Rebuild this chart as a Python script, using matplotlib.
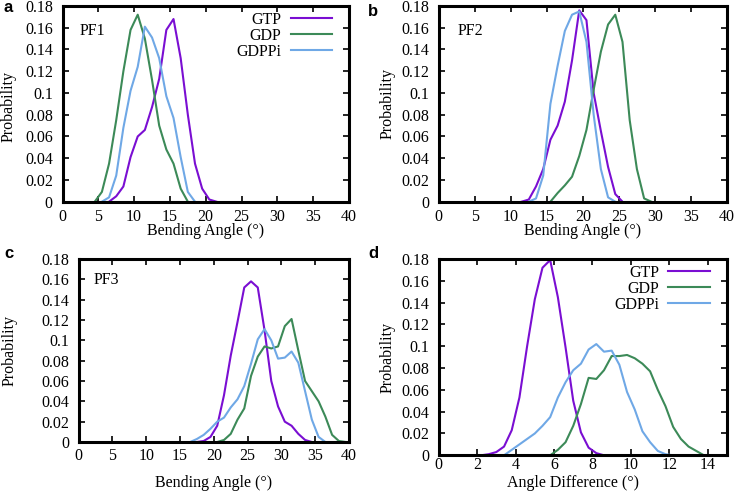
import matplotlib
matplotlib.use('Agg')
import matplotlib.pyplot as plt
from matplotlib.ticker import MultipleLocator, FuncFormatter

plt.rcParams['font.family'] = ['Liberation Serif', 'DejaVu Serif']
plt.rcParams['font.size'] = 11.5

gtp_color = '#7a0ed2'
gdp_color = '#3c8a58'
gdppi_color = '#6fa8e6'

# PF1 bending angle distributions
a_gtp_x = [6.5, 7.5, 8.5, 9.5, 10.5, 11.5, 12.5, 13.5, 14.5, 15.5, 16.5, 17.5, 18.5, 19.5, 20.5, 21.5]
a_gtp_y = [0, 0.005, 0.014, 0.041, 0.06, 0.066, 0.087, 0.113, 0.158, 0.168, 0.132, 0.08, 0.035, 0.012, 0.002, 0]
a_gdp_x = [4.5, 5.5, 6.5, 7.5, 8.5, 9.5, 10.5, 11.5, 12.5, 13.5, 14.5, 15.5, 16.5, 17.5]
a_gdp_y = [0, 0.009, 0.035, 0.075, 0.12, 0.158, 0.172, 0.150, 0.112, 0.07, 0.048, 0.035, 0.012, 0]
a_gdppi_x = [5.5, 6.5, 7.5, 8.5, 9.5, 10.5, 11.5, 12.5, 13.5, 14.5, 15.5, 16.5, 17.5, 18.5]
a_gdppi_y = [0, 0.004, 0.024, 0.068, 0.102, 0.124, 0.161, 0.151, 0.132, 0.097, 0.077, 0.041, 0.009, 0]

# PF2
b_gtp_x = [11.5, 12.5, 13.5, 14.5, 15.5, 16.5, 17.5, 18.5, 19.5, 20.5, 21.5, 22.5, 23.5, 24.5, 25.5]
b_gtp_y = [0, 0.002, 0.014, 0.03, 0.057, 0.07, 0.092, 0.13, 0.176, 0.167, 0.1, 0.065, 0.032, 0.007, 0]
b_gdp_x = [15.5, 16.5, 17.5, 18.5, 19.5, 20.5, 21.5, 22.5, 23.5, 24.5, 25.5, 26.5, 27.5, 28.5, 29.5]
b_gdp_y = [0, 0.008, 0.015, 0.023, 0.042, 0.066, 0.103, 0.138, 0.163, 0.172, 0.147, 0.075, 0.03, 0.003, 0]
b_gdppi_x = [12.5, 13.5, 14.5, 15.5, 16.5, 17.5, 18.5, 19.5, 20.5, 21.5, 22.5, 23.5, 24.5]
b_gdppi_y = [0, 0.003, 0.024, 0.09, 0.125, 0.157, 0.172, 0.175, 0.147, 0.08, 0.03, 0.004, 0]

# PF3
c_gtp_x = [17.5, 18.5, 19.5, 20.5, 21.5, 22.5, 23.5, 24.5, 25.5, 26.5, 27.5, 28.5, 29.5, 30.5,
           31.5, 32.5, 33.5, 34.5]
c_gtp_y = [0, 0.001, 0.005, 0.016, 0.046, 0.085, 0.118, 0.152, 0.158, 0.152, 0.11, 0.06, 0.035, 0.02,
           0.016, 0.008, 0.002, 0]
c_gdp_x = [20.5, 21.5, 22.5, 23.5, 24.5, 25.5, 26.5, 27.5, 28.5, 29.5, 30.5, 31.5, 32.5, 33.5,
           34.5, 35.5, 36.5, 37.5, 38.5, 39.5]
c_gdp_y = [0, 0.002, 0.008, 0.022, 0.033, 0.065, 0.084, 0.094, 0.092, 0.094, 0.114, 0.121, 0.09, 0.06,
           0.05, 0.04, 0.025, 0.007, 0.001, 0]
c_gdppi_x = [16.5, 17.5, 18.5, 19.5, 20.5, 21.5, 22.5, 23.5, 24.5, 25.5, 26.5, 27.5, 28.5, 29.5,
             30.5, 31.5, 32.5, 33.5, 34.5, 35.5, 36.5]
c_gdppi_y = [0, 0.003, 0.007, 0.013, 0.02, 0.024, 0.034, 0.042, 0.055, 0.077, 0.101, 0.111, 0.1, 0.082,
             0.083, 0.089, 0.078, 0.05, 0.022, 0.005, 0]

# angle difference
d_gtp_x = [2.2, 2.6, 3.0, 3.4, 3.8, 4.2, 4.6, 5.0, 5.4, 5.8, 6.2, 6.6, 7.0, 7.4, 7.8, 8.2, 8.6]
d_gtp_y = [0, 0.001, 0.003, 0.008, 0.023, 0.053, 0.1, 0.143, 0.172, 0.179, 0.145, 0.099, 0.05, 0.021,
           0.007, 0.002, 0]
d_gdp_x = [5.8, 6.2, 6.6, 7.0, 7.4, 7.8, 8.2, 8.6, 9.0, 9.4, 9.8, 10.2, 10.6, 11.0, 11.4, 11.8, 12.2,
           12.6, 13.0, 13.4, 13.8]
d_gdp_y = [0, 0.005, 0.012, 0.027, 0.047, 0.071, 0.070, 0.078, 0.091, 0.091, 0.092, 0.089, 0.084, 0.077,
           0.06, 0.045, 0.026, 0.015, 0.008, 0.004, 0]
d_gdppi_x = [3.4, 3.8, 4.2, 4.6, 5.0, 5.4, 5.8, 6.2, 6.6, 7.0, 7.4, 7.8, 8.2, 8.6, 9.0, 9.4, 9.8, 10.2,
             10.6, 11.0, 11.4, 11.8, 12.2]
d_gdppi_y = [0, 0.005, 0.01, 0.015, 0.02, 0.027, 0.035, 0.053, 0.067, 0.078, 0.084, 0.097, 0.102, 0.095,
             0.096, 0.083, 0.058, 0.042, 0.022, 0.012, 0.004, 0.001, 0]

W, H = 736, 492
fig = plt.figure(figsize=(W / 100, H / 100), dpi=100)


def box(l, t, r, b):
    # pixel box -> figure fraction
    return [l / W, 1 - b / H, (r - l) / W, (b - t) / H]


ax_a = fig.add_axes(box(62.5, 6, 349, 201.7))
ax_b = fig.add_axes(box(438.7, 6, 727, 201.7))
ax_c = fig.add_axes(box(78.7, 259, 349, 442))
ax_d = fig.add_axes(box(438.7, 259, 727, 455.3))

yfmt = FuncFormatter(lambda v, p: f'{v:.2f}'.rstrip('0').rstrip('.'))


def style(ax, xmax, xstep, xpad):
    ax.set_xlim(0, xmax)
    ax.set_ylim(0, 0.18)
    ax.xaxis.set_major_locator(MultipleLocator(xstep))
    ax.yaxis.set_major_locator(MultipleLocator(0.02))
    ax.yaxis.set_major_formatter(yfmt)
    ax.tick_params(direction='in', top=True, right=True, length=4, width=1.2)
    ax.tick_params(axis='y', pad=7)
    ax.tick_params(axis='x', pad=xpad)
    for s in ax.spines.values():
        s.set_linewidth(2.2)
    ax.set_ylabel('Probability', va='center')


panels = [
    (ax_a, [(a_gtp_x, a_gtp_y), (a_gdp_x, a_gdp_y), (a_gdppi_x, a_gdppi_y)]),
    (ax_b, [(b_gtp_x, b_gtp_y), (b_gdp_x, b_gdp_y), (b_gdppi_x, b_gdppi_y)]),
    (ax_c, [(c_gtp_x, c_gtp_y), (c_gdp_x, c_gdp_y), (c_gdppi_x, c_gdppi_y)]),
    (ax_d, [(d_gtp_x, d_gtp_y), (d_gdp_x, d_gdp_y), (d_gdppi_x, d_gdppi_y)]),
]
names = ['GTP', 'GDP', 'GDPPi']
colors = [gtp_color, gdp_color, gdppi_color]

for ax, series in panels:
    for (x, y), name, c in zip(series, names, colors):
        ax.plot(x, y, color=c, lw=1.5, label=name)

style(ax_a, 40, 5, 5)
style(ax_b, 40, 5, 5)
style(ax_c, 40, 5, 4)
style(ax_d, 15, 2, 1.5)

ax_a.set_xlabel('Bending Angle (°)', va='center')
ax_b.set_xlabel('Bending Angle (°)', va='center')
ax_c.set_xlabel('Bending Angle (°)', va='center')
ax_d.set_xlabel('Angle Difference (°)', va='center')

ax_a.xaxis.set_label_coords(0.5, -0.15)
ax_b.xaxis.set_label_coords(0.5, -0.15)
ax_c.xaxis.set_label_coords(0.5, -0.226)
ax_d.xaxis.set_label_coords(0.466, -0.143)

ax_a.yaxis.set_label_coords(-0.187, 0.485)
ax_b.yaxis.set_label_coords(-0.179, 0.5)
ax_c.yaxis.set_label_coords(-0.254, 0.5)
ax_d.yaxis.set_label_coords(-0.179, 0.5)

ax_a.text(0.061, 0.872, 'PF1', transform=ax_a.transAxes, va='center')
ax_b.text(0.067, 0.870, 'PF2', transform=ax_b.transAxes, va='center')
ax_c.text(0.054, 0.884, 'PF3', transform=ax_c.transAxes, va='center')

for ax in (ax_a, ax_d):
    ax.legend(loc='upper right', bbox_to_anchor=(0.941, 0.97), markerfirst=False, frameon=False,
              handlelength=2.6, handletextpad=0.6, labelspacing=0.0, borderpad=0, borderaxespad=0)

letter_kw = dict(family=['Liberation Sans', 'DejaVu Sans'], weight='bold', size=12)
fig.text(4 / W, 1 - 12.3 / H, 'a', **letter_kw)
fig.text(368 / W, 1 - 15.5 / H, 'b', **letter_kw)
fig.text(4 / W, 1 - 258.5 / H, 'c', **letter_kw)
fig.text(368 / W, 1 - 258.5 / H, 'd', **letter_kw)

fig.savefig('out.png', dpi=100)
